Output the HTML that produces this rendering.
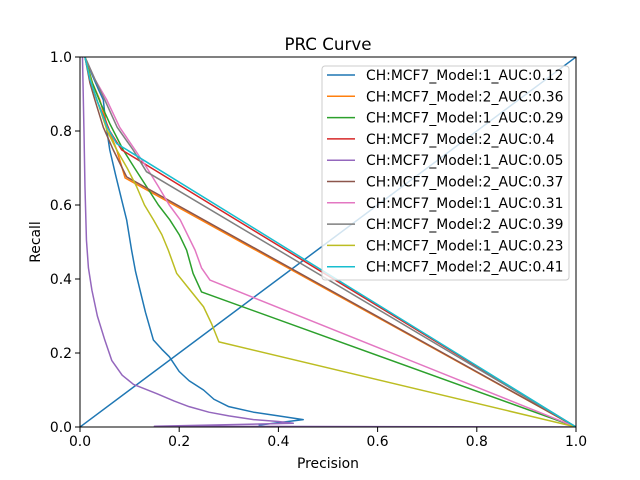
<!DOCTYPE html>
<html><head><meta charset="utf-8"><style>
body{margin:0;background:#fff}
svg{display:block;font-family:"DejaVu Sans","Liberation Sans",sans-serif}
</style></head><body>
<svg id="chart" width="640" height="480" viewBox="0 0 640 480" xmlns="http://www.w3.org/2000/svg">
<rect width="640" height="480" fill="#fff"/>
<text x="328" y="50" text-anchor="middle" font-size="16.7">PRC Curve</text>
<g id="plot"></g>
<text x="328" y="468" text-anchor="middle" font-size="13.9">Precision</text>
<text transform="translate(40,242) rotate(-90)" text-anchor="middle" font-size="13.9">Recall</text>
</svg>
<script>
const xTicks = [0, 0.2, 0.4, 0.6, 0.8, 1.0];
const yTicks = [0, 0.2, 0.4, 0.6, 0.8, 1.0];
const tickLabels = ["0.0", "0.2", "0.4", "0.6", "0.8", "1.0"];
const seriesNames = ["CH:MCF7_Model:1_AUC:0.12","CH:MCF7_Model:2_AUC:0.36","CH:MCF7_Model:1_AUC:0.29","CH:MCF7_Model:2_AUC:0.4","CH:MCF7_Model:1_AUC:0.05","CH:MCF7_Model:2_AUC:0.37","CH:MCF7_Model:1_AUC:0.31","CH:MCF7_Model:2_AUC:0.39","CH:MCF7_Model:1_AUC:0.23","CH:MCF7_Model:2_AUC:0.41"];
const colors = ["#1f77b4","#ff7f0e","#2ca02c","#d62728","#9467bd","#8c564b","#e377c2","#7f7f7f","#bcbd22","#17becf"];
const s0 = [[0.01,1],[0.025,0.95],[0.038,0.91],[0.047,0.884],[0.052,0.82],[0.06,0.749],[0.072,0.68],[0.084,0.614],[0.094,0.56],[0.104,0.478],[0.112,0.42],[0.121,0.37],[0.132,0.31],[0.148,0.235],[0.165,0.21],[0.18,0.19],[0.2,0.15],[0.22,0.125],[0.249,0.10],[0.27,0.075],[0.30,0.055],[0.35,0.04],[0.40,0.03],[0.45,0.02],[0.36,0.005]];
const s1 = [[0.01,1],[0.025,0.93],[0.04,0.884],[0.056,0.81],[0.074,0.749],[0.091,0.673],[1,0]];
const s2 = [[0.01,1],[0.025,0.93],[0.04,0.88],[0.06,0.82],[0.087,0.749],[0.11,0.7],[0.134,0.65],[0.158,0.6],[0.181,0.56],[0.2,0.52],[0.215,0.478],[0.228,0.415],[0.245,0.365],[1,0]];
const s3 = [[0.01,1],[0.02,0.94],[0.035,0.88],[0.06,0.8],[0.084,0.749],[1,0]];
const s4 = [[0.005,1],[0.008,0.8],[0.01,0.65],[0.013,0.505],[0.017,0.43],[0.024,0.37],[0.035,0.3],[0.05,0.235],[0.064,0.18],[0.085,0.14],[0.108,0.115],[0.155,0.09],[0.19,0.07],[0.22,0.055],[0.26,0.04],[0.30,0.03],[0.35,0.02],[0.40,0.015],[0.43,0.01],[0.15,0.002],[1,0]];
const s5 = [[0.01,1],[0.02,0.93],[0.03,0.884],[0.047,0.81],[0.067,0.749],[0.094,0.676],[1,0]];
const s6 = [[0.01,1],[0.03,0.94],[0.054,0.884],[0.08,0.81],[0.111,0.749],[0.135,0.7],[0.158,0.65],[0.18,0.6],[0.202,0.56],[0.232,0.478],[0.245,0.43],[0.262,0.397],[1,0]];
const s7 = [[0.01,1],[0.03,0.94],[0.05,0.884],[0.075,0.81],[0.107,0.749],[0.134,0.69],[1,0]];
const s8 = [[0.01,1],[0.025,0.92],[0.04,0.86],[0.055,0.8],[0.074,0.749],[0.095,0.7],[0.114,0.65],[0.13,0.6],[0.148,0.56],[0.165,0.52],[0.178,0.478],[0.195,0.415],[0.222,0.37],[0.249,0.325],[0.265,0.28],[0.28,0.23],[1,0]];
const s9 = [[0.01,1],[0.02,0.94],[0.035,0.88],[0.055,0.81],[0.074,0.766],[1,0]];
const diagonal = [[0,0],[1,1]];
const series = [s0,s1,s2,s3,s4,s5,s6,s7,s8,s9];

const X0=80, X1=576, Y0=427, Y1=57;
const xs = v => X0 + (X1-X0)*v;
const ys = v => Y0 - (Y0-Y1)*v;
const NS="http://www.w3.org/2000/svg";
const plot=document.getElementById('plot');
function mk(tag, attrs, parent){const e=document.createElementNS(NS,tag);for(const k in attrs)e.setAttribute(k,attrs[k]);(parent||plot).appendChild(e);return e;}

const clip=mk('clipPath',{id:'clip'});mk('rect',{x:X0,y:Y1,width:X1-X0,height:Y0-Y1},clip);
const lines=mk('g',{'clip-path':'url(#clip)'});


series.forEach((s,i)=>{
  const p=mk('polyline',{points:s.map(d=>xs(d[0])+','+ys(d[1])).join(' '),fill:'none',stroke:colors[i],'stroke-width':1.5,'stroke-linejoin':'round'},lines);
  
  
  if(i===0){
    const d=mk('polyline',{points:diagonal.map(q=>xs(q[0])+','+ys(q[1])).join(' '),fill:'none',stroke:colors[0],'stroke-width':1.5},lines);
    
    
  }
});
const frame=mk('rect',{x:X0,y:Y1,width:X1-X0,height:Y0-Y1,fill:'none',stroke:'#000','stroke-width':1});


xTicks.forEach((t,i)=>{
  const x=xs(t);
  const tk=mk('line',{x1:x,x2:x,y1:Y0,y2:Y0+5,stroke:'#000'});
  
  
  const lb=mk('text',{x:x,y:Y0+19,'text-anchor':'middle','font-size':13.9});
  lb.textContent=tickLabels[i];
  
  
});
yTicks.forEach((t,i)=>{
  const y=ys(t);
  const tk=mk('line',{x1:X0-5,x2:X0,y1:y,y2:y,stroke:'#000'});
  
  
  const lb=mk('text',{x:X0-8,y:y+5,'text-anchor':'end','font-size':13.9});
  lb.textContent=tickLabels[i];
  
  
});
const lg=mk('g',{});


mk('rect',{x:322,y:66,width:247,height:214,rx:3,fill:'#fff','fill-opacity':0.8,stroke:'#ccc'},lg);
seriesNames.forEach((n,i)=>{
  const y=75+i*21.3;
  const e=mk('g',{},lg);
  
  
  mk('line',{x1:327,x2:355,y1:y,y2:y,stroke:colors[i],'stroke-width':1.5},e);
  const t=mk('text',{x:366,y:y+5,'font-size':13.9},e);
  t.textContent=n;
});
</script>
</body></html>
